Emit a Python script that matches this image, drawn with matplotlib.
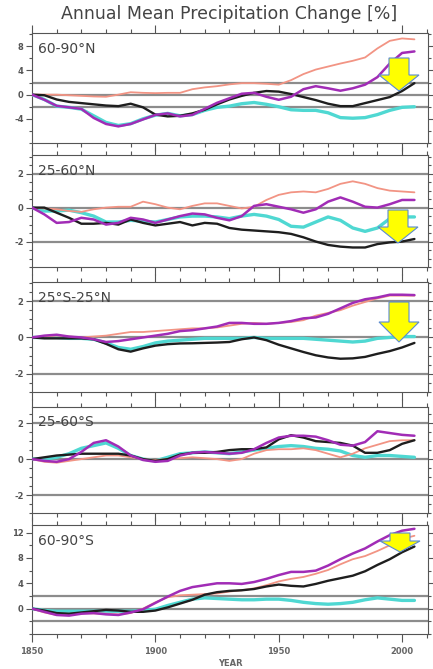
import matplotlib
matplotlib.use('Agg')
import matplotlib.pyplot as plt
from matplotlib.patches import Polygon
import numpy as np

plt.rcParams['font.family'] = ['DejaVu Sans']

"""
Datos (leidos de la figura, cada 5 anios)
"""

years = list(range(1850, 2010, 5))

# 60-90N
n60_salmon = [0, 0.0, 0.0, -0.1, -0.2, -0.3, -0.35, 0.0, 0.4, 0.3, 0.25, 0.3, 0.3, 0.9, 1.2, 1.4,
              1.7, 1.9, 1.9, 1.8, 1.65, 2.4, 3.4, 4.15, 4.65, 5.15, 5.6, 6.15, 7.65, 8.9, 9.3, 9.15]
n60_purple = [0, -0.85, -1.85, -2.1, -2.35, -3.85, -4.85, -5.25, -4.85, -4.1, -3.35, -3.1, -3.6, -3.35, -2.35, -1.35,
              -0.6, 0.15, 0.3, -0.35, -0.85, -0.35, 0.9, 1.4, 1.05, 0.65, 1.05, 1.65, 2.9, 5.15, 6.9, 7.15]
n60_cyan = [0, -0.8, -1.9, -2.1, -2.4, -3.5, -4.6, -5.1, -4.8, -4.0, -3.4, -3.1, -3.5, -3.3, -2.6, -2.1,
            -1.9, -1.5, -1.3, -1.6, -2.0, -2.5, -2.6, -2.6, -3.0, -3.8, -3.9, -3.8, -3.3, -2.6, -2.1, -2.0]
n60_black = [0, -0.1, -0.8, -1.2, -1.4, -1.6, -1.8, -1.9, -1.5, -2.1, -3.3, -3.6, -3.5, -3.1, -2.5, -1.6,
             -0.8, -0.2, 0.3, 0.6, 0.5, 0.1, -0.4, -0.9, -1.5, -1.9, -1.9, -1.4, -0.9, -0.4, 0.6, 1.9]

# 25-60N
n25_salmon = [0, -0.05, -0.1, -0.2, -0.25, -0.1, 0.0, 0.05, 0.05, 0.35, 0.2, 0.0, -0.1, 0.1, 0.25, 0.25,
              0.1, -0.05, 0.05, 0.45, 0.75, 0.9, 0.95, 0.9, 1.1, 1.4, 1.55, 1.4, 1.15, 1.0, 0.95, 0.9]
n25_purple = [0, -0.4, -0.9, -0.85, -0.6, -0.7, -1.0, -0.9, -0.6, -0.7, -0.9, -0.7, -0.5, -0.35, -0.4, -0.6,
              -0.75, -0.5, 0.1, 0.2, 0.05, -0.1, -0.3, -0.1, 0.35, 0.6, 0.35, 0.05, 0.0, 0.2, 0.45, 0.45]
n25_cyan = [0, -0.2, -0.2, -0.15, -0.3, -0.5, -0.85, -0.85, -0.75, -0.8, -0.85, -0.7, -0.55, -0.5, -0.5, -0.55,
            -0.65, -0.5, -0.4, -0.5, -0.7, -1.1, -1.15, -0.85, -0.55, -0.75, -1.2, -1.4, -1.2, -0.65, -0.55, -0.55]
n25_black = [0, 0.0, -0.3, -0.6, -0.95, -0.95, -0.9, -1.0, -0.7, -0.9, -1.05, -0.95, -0.85, -1.05, -0.9, -0.95,
             -1.2, -1.3, -1.35, -1.4, -1.45, -1.55, -1.75, -2.0, -2.2, -2.3, -2.35, -2.35, -2.15, -2.05, -2.0, -1.85]

# 25S-25N
tr_salmon = [0, 0.05, 0.1, 0.05, 0.0, 0.05, 0.1, 0.2, 0.3, 0.3, 0.35, 0.4, 0.45, 0.5, 0.5, 0.55,
             0.65, 0.75, 0.8, 0.75, 0.8, 0.85, 0.95, 1.2, 1.35, 1.5, 1.75, 1.95, 2.15, 2.3, 2.3, 2.3]
tr_purple = [0, 0.1, 0.15, 0.05, 0.0, -0.1, -0.25, -0.2, -0.1, 0.0, 0.1, 0.2, 0.35, 0.4, 0.5, 0.6,
             0.8, 0.8, 0.75, 0.75, 0.8, 0.9, 1.05, 1.1, 1.3, 1.6, 1.9, 2.1, 2.2, 2.35, 2.35, 2.33]
tr_cyan = [0, 0.0, 0.0, -0.05, -0.05, -0.1, -0.3, -0.55, -0.65, -0.5, -0.3, -0.2, -0.15, -0.1, -0.05, -0.05,
           -0.05, -0.05, 0.0, -0.05, -0.05, -0.05, -0.05, -0.1, -0.15, -0.2, -0.25, -0.2, -0.05, 0.0, 0.05, 0.05]
tr_black = [0, -0.05, -0.05, -0.05, -0.05, -0.1, -0.35, -0.65, -0.78, -0.6, -0.45, -0.37, -0.33, -0.32, -0.3, -0.28,
            -0.25, -0.1, 0.0, -0.15, -0.4, -0.6, -0.8, -0.98, -1.1, -1.17, -1.15, -1.07, -0.9, -0.75, -0.55, -0.3]

# 25-60S
s25_salmon = [0, -0.15, -0.2, -0.1, 0.0, 0.1, 0.2, 0.2, 0.1, 0.0, -0.05, 0.0, 0.05, 0.1, 0.05, 0.0,
              -0.1, 0.0, 0.3, 0.5, 0.55, 0.55, 0.6, 0.5, 0.3, 0.1, 0.3, 0.6, 0.8, 1.0, 1.05, 1.05]
s25_purple = [0, -0.1, -0.15, 0.0, 0.4, 0.9, 1.05, 0.7, 0.2, -0.05, -0.15, -0.1, 0.2, 0.35, 0.4, 0.35,
              0.3, 0.35, 0.55, 0.9, 1.2, 1.3, 1.3, 1.25, 1.05, 0.8, 0.75, 0.95, 1.55, 1.45, 1.35, 1.3]
s25_cyan = [0, 0.0, 0.1, 0.3, 0.6, 0.75, 0.9, 0.6, 0.2, 0.0, -0.1, 0.1, 0.3, 0.35, 0.4, 0.35,
            0.3, 0.4, 0.5, 0.6, 0.7, 0.75, 0.7, 0.6, 0.55, 0.45, 0.2, 0.1, 0.2, 0.2, 0.15, 0.1]
s25_black = [0, 0.1, 0.2, 0.25, 0.3, 0.3, 0.3, 0.3, 0.2, 0.0, -0.1, 0.0, 0.25, 0.35, 0.35, 0.4,
             0.5, 0.55, 0.55, 0.65, 1.1, 1.33, 1.2, 1.0, 0.95, 0.9, 0.75, 0.35, 0.35, 0.5, 0.85, 1.05]

# 60-90S
s60_salmon = [0, -0.6, -1.0, -0.9, -0.7, -0.75, -0.8, -0.9, -0.7, 0.0, 1.0, 1.8, 2.1, 2.2, 2.3, 2.4,
              2.7, 2.9, 3.2, 3.7, 4.3, 4.7, 5.0, 5.5, 6.1, 7.0, 7.8, 8.3, 9.1, 10.0, 11.0, 11.5]
s60_purple = [0, -0.5, -1.0, -1.1, -0.8, -0.7, -0.9, -1.0, -0.6, -0.1, 0.9, 1.9, 2.8, 3.4, 3.7, 4.0,
              4.0, 3.9, 4.2, 4.7, 5.3, 5.8, 5.8, 6.0, 6.8, 7.8, 8.7, 9.5, 10.6, 11.6, 12.3, 12.6]
s60_cyan = [0, -0.3, -0.4, -0.4, -0.4, -0.4, -0.4, -0.4, -0.4, -0.3, -0.1, 0.5, 1.0, 1.5, 1.7, 1.6,
            1.5, 1.4, 1.4, 1.5, 1.5, 1.3, 1.0, 0.8, 0.7, 0.8, 1.0, 1.4, 1.7, 1.5, 1.3, 1.3]
s60_black = [0, -0.3, -0.7, -0.8, -0.6, -0.4, -0.2, -0.3, -0.5, -0.5, -0.3, 0.2, 0.8, 1.4, 2.2, 2.6,
             2.8, 2.9, 3.1, 3.5, 3.8, 3.6, 3.5, 3.9, 4.4, 4.8, 5.2, 5.9, 6.9, 7.8, 8.9, 9.8]

regions = ['60-90°N', '25-60°N', '25°S-25°N', '25-60°S', '60-90°S']
series = [
    (n60_cyan, n60_salmon, n60_black, n60_purple),
    (n25_cyan, n25_salmon, n25_black, n25_purple),
    (tr_cyan, tr_salmon, tr_black, tr_purple),
    (s25_cyan, s25_salmon, s25_black, s25_purple),
    (s60_cyan, s60_salmon, s60_black, s60_purple),
]
ylims = [(-6.2, 10.2), (-3.1, 3.1), (-3.0, 3.05), (-3.0, 2.9), (-2.7, 13.2)]
yticks = [[-4, 0, 4, 8], [-2, 0, 2], [-2, 0, 2], [-2, 0, 2], [0, 4, 8, 12]]
yminor = [2, 0.5, 0.5, 0.5, 2]

"""
Graficado
"""

W, H = 433, 669
fig = plt.figure(figsize=(W / 100, H / 100), dpi=100)

# posiciones de paneles en pixeles (arriba, abajo)
panels_px = [(33, 143), (155, 267), (282, 392), (407, 513), (525, 634)]
left_px, right_px = 32, 428

colors = ['#4fd8d2', '#f29484', '#1e1e1e', '#a12cb6']
widths = [2.4, 1.3, 1.7, 1.8]

axes = []
for i, (top, bot) in enumerate(panels_px):
    ax = fig.add_axes([left_px / W, 1 - bot / H, (right_px - left_px) / W, (bot - top) / H])
    for yl in (-2, 0, 2):
        ax.axhline(yl, color='#8c8c8c', lw=1.6, zorder=1)
    for vals, c, lw in zip(series[i], colors, widths):
        ax.plot(years, vals, color=c, lw=lw, zorder=3, solid_capstyle='round')
    ax.set_xlim(1850, 2010.5)
    ax.set_ylim(*ylims[i])
    ax.set_xticks([1850, 1900, 1950, 2000])
    ax.set_xticks(np.arange(1850, 2011, 10), minor=True)
    ax.set_yticks(yticks[i])
    ax.set_yticks(np.arange(ylims[i][0] // yminor[i] * yminor[i], ylims[i][1], yminor[i]), minor=True)
    ax.set_yticklabels([str(t) for t in yticks[i]], fontsize=6, fontweight='bold', color='#555555')
    ax.tick_params(axis='both', which='both', direction='out', color='#555555', width=0.8,
                   top=True, right=True)
    ax.tick_params(axis='x', which='major', length=6)
    ax.tick_params(axis='x', which='minor', length=3)
    ax.tick_params(axis='y', which='major', length=4, pad=2)
    ax.tick_params(axis='y', which='minor', length=2)
    if i < 4:
        ax.set_xticklabels([])
    else:
        ax.set_xticklabels(['1850', '1900', '1950', '2000'], fontsize=6, fontweight='bold',
                           color='#666666')
        ax.set_xlabel('YEAR', fontsize=6, fontweight='bold', color='#666666', labelpad=2)
    for s in ax.spines.values():
        s.set_color('#555555')
        s.set_linewidth(0.8)
    ax.text(0.015, 0.92, regions[i], transform=ax.transAxes, ha='left', va='top',
            fontsize=10, color='#444444')
    axes.append(ax)

fig.suptitle('Annual Mean Precipitation Change [%]', x=0.53, y=0.993, va='top',
             fontsize=12.5, color='#444444')

# flechas amarillas (cx, top, head_start, tip) en pixeles
arrows_px = [(399, 58, 75, 91), (398, 210, 227, 243), (399, 302, 322, 342), (400, 533, 541, 552)]
for cx, top, hs, tip in arrows_px:
    sw, hw = 10, 20
    pts = [(cx - sw, top), (cx + sw, top), (cx + sw, hs), (cx + hw, hs), (cx, tip),
           (cx - hw, hs), (cx - sw, hs)]
    pts = [(x / W, 1 - y / H) for x, y in pts]
    fig.patches.append(Polygon(pts, closed=True, transform=fig.transFigure, facecolor='#ffff00',
                               edgecolor='#5b8bd0', lw=0.8, zorder=10))

fig.savefig('out.png', dpi=100)
